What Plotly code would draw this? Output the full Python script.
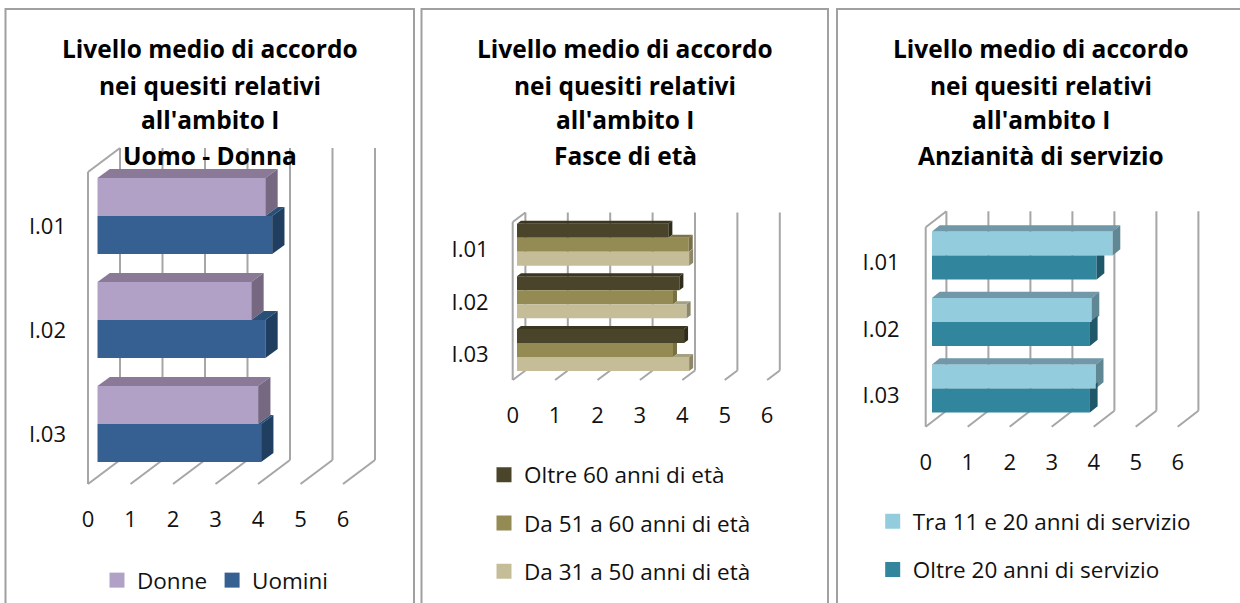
import plotly.graph_objects as go

W, H = 1240, 603
categories = ["I.01", "I.02", "I.03"]
ticks = [0, 1, 2, 3, 4, 5, 6]

donne = [3.95, 3.62, 3.78]
uomini = [4.11, 3.95, 3.85]
oltre60 = [3.57, 3.83, 3.94]
da51a60 = [4.05, 3.68, 3.68]
da31a50 = [4.06, 4.00, 4.06]
tra11e20 = [4.30, 3.80, 3.90]
oltre20 = [3.92, 3.76, 3.76]

title_common = ["Livello medio di accordo", "nei quesiti relativi", "all'ambito I"]
titles = ["Uomo - Donna", "Fasce di età", "Anzianità di servizio"]

panels = [
    dict(x0=88, unit=42.5, top=172, floor=484, wall=(32, 24), start=9.5, lift=8, band=38, depth=(12.3, 9),
         cx=210, ystand=18, lab=2, series=[("Donne", donne, "#B2A1C7", "#8A7A98", "#776882"),
                         ("Uomini", uomini, "#376092", "#2A5078", "#203F60")],
         lx=97, ly=559, orient="h", gap=0),
    dict(x0=512.7, unit=42.4, top=222, floor=380, wall=(12.7, 9.5), start=4.3, lift=3.7, band=14, depth=(4, 3),
         cx=625, ystand=20, lab=1, series=[("Oltre 60 anni di età", oltre60, "#4A452A", "#3A3620", "#2F2C1A"),
                         ("Da 51 a 60 anni di età", da51a60, "#948A54", "#7C7348", "#787045"),
                         ("Da 31 a 50 anni di età", da31a50, "#C4BD97", "#A5A07F", "#8C8768")],
         lx=484, ly=453.5, orient="v", gap=16),
    dict(x0=925.7, unit=42, top=227.3, floor=426.7, wall=(20.7, 16), start=6.3, lift=5, band=24, depth=(7.7, 6.3),
         cx=1041, ystand=22, lab=2, series=[("Tra 11 e 20 anni di servizio", tra11e20, "#93CDDD", "#7098A8", "#5F8894"),
                          ("Oltre 20 anni di servizio", oltre20, "#31859C", "#27707F", "#1F5868")],
         lx=872.7, ly=500, orient="v", gap=16),
]

FONT = "Open Sans"
GRID = "#A6A6A6"
fig = go.Figure()
shapes, annotations, layout = [], [], {}

for i, p in enumerate(panels):
    s = "" if i == 0 else str(i + 1)
    xa, ya = "x" + s, "y" + s
    n = len(categories)
    cat = (p["floor"] - p["top"]) / n
    dX, dY = p["wall"][0] / p["unit"], p["wall"][1] / cat
    ddx, ddy = p["depth"][0] / p["unit"], p["depth"][1] / cat
    base = p["start"] / p["unit"]
    w = p["band"] / cat
    shift = -p["lift"] / cat
    m = len(p["series"])

    pad = 3
    left, right = p["x0"] - pad, p["x0"] + p["wall"][0] + 6 * p["unit"] + pad
    up, down = p["top"] - p["wall"][1] - pad, p["floor"] + pad
    layout["xaxis" + s] = dict(
        domain=[left / W, right / W], range=[-pad / p["unit"], 6 + dX + pad / p["unit"]],
        anchor=ya, tickvals=ticks, ticktext=[str(t) for t in ticks], showgrid=False, zeroline=False,
        showline=False, ticks="", ticklabelstandoff=17, tickfont=dict(family=FONT, size=22, color="#111"),
        fixedrange=True, automargin=False)
    layout["yaxis" + s] = dict(
        domain=[1 - down / H, 1 - up / H], range=[n - 0.5 + pad / cat, -0.5 - dY - pad / cat],
        anchor=xa, tickvals=[c + p["lab"] / cat for c in range(n)], ticktext=categories, showgrid=False,
        zeroline=False, showline=False, ticks="", ticklabelstandoff=p["ystand"],
        tickfont=dict(family=FONT, size=22, color="#111"), fixedrange=True, automargin=False)

    # walls and floor follow the axis ticks
    def seg(x1, y1, x2, y2):
        shapes.append(dict(type="line", xref=xa, yref=ya, x0=x1, y0=y1, x1=x2, y1=y2, layer="below",
                           line=dict(color=GRID, width=2)))
    yf, yt = n - 0.5, -0.5
    seg(0, yf, 0, yt)
    seg(0, yt, dX, yt - dY)
    for t in ticks:
        seg(t, yf, t + dX, yf - dY)
        seg(t + dX, yf - dY, t + dX, yt - dY)

    for k, (name, vals, front, top, side) in enumerate(p["series"]):
        off = shift - m * w / 2 + k * w
        fig.add_trace(go.Bar(y=list(range(n)), x=vals, base=base, orientation="h", width=w, offset=off,
                             marker=dict(color=front, line=dict(width=0)), xaxis=xa, yaxis=ya,
                             showlegend=False, name=name))
        tx, ty, sx, sy = [], [], [], []
        for c, v in enumerate(vals):
            e = base + v
            y1, y2 = c + off, c + off + w
            prev = base + p["series"][k - 1][1][c] if k else None
            xs = base if k == 0 else prev
            if e > xs:
                tx += [xs, e, e + ddx, xs + ddx, xs, None]
                ty += [y1, y1, y1 - ddy, y1 - ddy, y1, None]
            if prev is not None and prev > e:
                q = min(prev, e + ddx)
                sx += [e, e, e + ddx, e + ddx, q, q, e, None]
                sy += [y1, y2, y2 - ddy, y1 - ddy, y1 - ddy * (q - e) / ddx, y1, y1, None]
            else:
                sx += [e, e, e + ddx, e + ddx, e, None]
                sy += [y1, y2, y2 - ddy, y1 - ddy, y1, None]
        for px_, py_, col in ((tx, ty, top), (sx, sy, side)):
            if px_:
                fig.add_trace(go.Scatter(x=px_, y=py_, mode="lines", fill="toself", fillcolor=col,
                                         line=dict(width=0, color=col), hoverinfo="skip", showlegend=False,
                                         xaxis=xa, yaxis=ya))

    lname = "legend" if i == 0 else "legend" + str(i + 1)
    for name, vals, front, top, side in p["series"]:
        fig.add_trace(go.Scatter(x=[None], y=[None], mode="markers", name=name, xaxis=xa, yaxis=ya,
                                 marker=dict(symbol="square", size=15, color=front), legend=lname,
                                 legendgroup=lname + name))
    layout[lname] = dict(x=p["lx"] / W, y=1 - p["ly"] / H, xanchor="left", yanchor="top",
                         orientation=p["orient"], tracegroupgap=p["gap"], bgcolor="rgba(0,0,0,0)",
                         font=dict(family=FONT, size=22.5, color="#111"), itemclick=False, itemdoubleclick=False)

    for line, yy in zip(title_common + [titles[i]], (49, 85, 120, 156)):
        annotations.append(dict(text="<b>" + line + "</b>", x=p["cx"] / W, y=1 - yy / H, xref="paper", yref="paper",
                                xanchor="center", yanchor="middle", showarrow=False,
                                font=dict(family=FONT, size=24.5, color="#000")))

# chart frames
frames = [(5.5, 414), (421.5, 828), (837, None)]
for l, r in frames:
    path = f"M {l/W} 0 L {l/W} {1-9/H} L {(r or W)/W} {1-9/H}" + (f" L {r/W} 0" if r else "")
    shapes.append(dict(type="path", xref="paper", yref="paper", layer="below", path=path,
                       line=dict(color="#A0A0A0", width=2)))

fig.update_layout(width=W, height=H, margin=dict(l=0, r=0, t=0, b=0, autoexpand=False), paper_bgcolor="white",
                  plot_bgcolor="rgba(0,0,0,0)", barmode="overlay", shapes=shapes, annotations=annotations,
                  **layout)
fig.write_html("out.html", config={"displayModeBar": False}, post_script="document.body.style.margin='0';")
